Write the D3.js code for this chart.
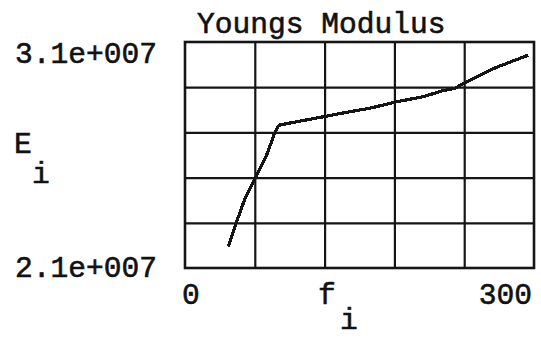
<!DOCTYPE html>
<html>
<head>
<meta charset="utf-8">
<script src="https://cdn.jsdelivr.net/npm/d3@7"></script>
<style>
  html, body { margin: 0; padding: 0; background: #fff; }
  svg { display: block; }
  text { font-family: "Liberation Mono", "Courier New", monospace; fill: #111; }
</style>
</head>
<body>
<svg id="chart" width="541" height="338"></svg>
<script>
// Young's modulus E_i against frequency f_i
const fValues = [37.2, 44.4, 51.6, 61, 70.2, 76.8, 80.2, 81.7, 98.9, 118.9, 139, 159, 180.5, 204.8, 222, 232, 242.2, 262.2, 270.8, 295.1];
const eValues = [2.194e7, 2.305e7, 2.408e7, 2.503e7, 2.600e7, 2.693e7, 2.728e7, 2.733e7, 2.750e7, 2.769e7, 2.789e7, 2.807e7, 2.834e7, 2.858e7, 2.885e7, 2.895e7, 2.924e7, 2.976e7, 2.994e7, 3.042e7];

const xDomain = [0, 300];
const yDomain = [2.1e7, 3.1e7];
const xTickLabels = ["0", "300"];
const yTickLabels = ["2.1e+007", "3.1e+007"];
const gridDivisions = 5;
const titleText = "Youngs Modulus";

const svg = d3.select("#chart");
const plot = { left: 185, right: 534, top: 42, bottom: 268 };

const x = d3.scaleLinear().domain(xDomain).range([plot.left, plot.right]);
const y = d3.scaleLinear().domain(yDomain).range([plot.bottom, plot.top]);

const ink = "#151515";

// grid: evenly divided cells inside the frame
const xGrid = d3.range(1, gridDivisions).map(k => xDomain[0] + k * (xDomain[1] - xDomain[0]) / gridDivisions);
const yGrid = d3.range(1, gridDivisions).map(k => yDomain[0] + k * (yDomain[1] - yDomain[0]) / gridDivisions);

svg.append("g")
  .attr("transform", `translate(0,${plot.bottom})`)
  .call(d3.axisBottom(x).tickValues(xGrid).tickSize(-(plot.bottom - plot.top)).tickFormat(""))
  .call(g => g.select(".domain").remove())
  .call(g => g.selectAll("line").attr("stroke", ink).attr("stroke-width", 2.2));

svg.append("g")
  .attr("transform", `translate(${plot.left},0)`)
  .call(d3.axisLeft(y).tickValues(yGrid).tickSize(-(plot.right - plot.left)).tickFormat(""))
  .call(g => g.select(".domain").remove())
  .call(g => g.selectAll("line").attr("stroke", ink).attr("stroke-width", 2.2));

// frame
svg.append("rect")
  .attr("x", plot.left).attr("y", plot.top)
  .attr("width", plot.right - plot.left).attr("height", plot.bottom - plot.top)
  .attr("fill", "none").attr("stroke", ink).attr("stroke-width", 2.6);

// data trace, drawn without anti-aliasing for a stepped pixel look
const pts = fValues.map((f, i) => [f, eValues[i]]);
svg.append("path")
  .datum(pts)
  .attr("fill", "none")
  .attr("stroke", ink)
  .attr("stroke-width", 3.2)
  .attr("shape-rendering", "crispEdges")
  .attr("d", d3.line().x(d => x(d[0])).y(d => y(d[1])));

const fs = 29.6;
const txt = (s, xx, yy, anchor) => svg.append("text")
  .attr("x", xx).attr("y", yy)
  .attr("text-anchor", anchor || "start")
  .attr("font-size", fs)
  .attr("stroke", ink).attr("stroke-width", 0.6)
  .text(s);

// title
txt(titleText, 197, 33);

// y-axis range labels
txt(yTickLabels[1], 15, 63);
txt(yTickLabels[0], 15, 277);

// y-axis name E with subscript i
txt("E", 14, 153);
txt("i", 32, 183);

// x-axis range labels
txt(xTickLabels[0], x(xDomain[0]) - 3, 304);
txt(xTickLabels[1], x(xDomain[1]) - 2, 304, "end");

// x-axis name f with subscript i
txt("f", 318, 304);
txt("i", 340, 329);
</script>
</body>
</html>
